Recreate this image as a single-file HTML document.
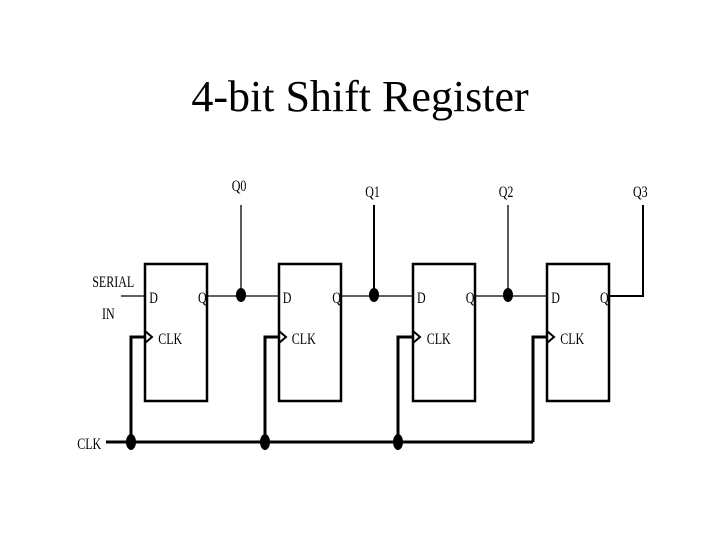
<!DOCTYPE html>
<html><head><style>
html,body{margin:0;padding:0;background:#fff;width:720px;height:540px;overflow:hidden}
</style></head><body>
<svg width="720" height="540" xmlns="http://www.w3.org/2000/svg" font-family="Liberation Serif, serif">
<text x="360" y="111" font-size="44" text-anchor="middle">4-bit Shift Register</text>
<g fill="none" stroke="#000">
<rect x="145" y="264" width="62" height="137" stroke-width="2.5"/>
<rect x="279" y="264" width="62" height="137" stroke-width="2.5"/>
<rect x="413" y="264" width="62" height="137" stroke-width="2.5"/>
<rect x="547" y="264" width="62" height="137" stroke-width="2.5"/>
<g stroke-width="1.3">
<line x1="121" y1="296" x2="145" y2="296"/>
<line x1="207" y1="296" x2="279" y2="296"/>
<line x1="341" y1="296" x2="413" y2="296"/>
<line x1="475" y1="296" x2="547" y2="296"/>
<line x1="241" y1="205" x2="241" y2="296"/>
<line x1="508" y1="205" x2="508" y2="296"/>
</g>
<line x1="374" y1="205" x2="374" y2="296" stroke-width="2"/>
<polyline points="610,296 643,296 643,205" stroke-width="2"/>
<g stroke-width="3">
<line x1="106" y1="442" x2="533" y2="442"/>
<polyline points="131,442 131,337 145,337"/>
<polyline points="265,442 265,337 279,337"/>
<polyline points="398,442 398,337 413,337"/>
<polyline points="533,442 533,337 547,337"/>
</g>
<g stroke-width="2">
<polyline points="145,331 152,337 145,343"/>
<polyline points="279,331 286,337 279,343"/>
<polyline points="413,331 420,337 413,343"/>
<polyline points="547,331 554,337 547,343"/>
</g>
</g>
<g fill="#000">
<ellipse cx="241" cy="295" rx="5" ry="7"/>
<ellipse cx="374" cy="295" rx="5" ry="7"/>
<ellipse cx="508" cy="295" rx="5" ry="7"/>
<ellipse cx="131" cy="442" rx="5" ry="8"/>
<ellipse cx="265" cy="442" rx="5" ry="8"/>
<ellipse cx="398" cy="442" rx="5" ry="8"/>
</g>
<g font-size="16" transform="scale(0.75,1)">
<text x="123" y="287">SERIAL</text>
<text x="136" y="319">IN</text>
<text x="103" y="449">CLK</text>
<text x="309" y="191">Q0</text>
<text x="487" y="197">Q1</text>
<text x="665" y="197">Q2</text>
<text x="844" y="197">Q3</text>
<text x="199" y="303">D</text><text x="264" y="303">Q</text><text x="211" y="344">CLK</text>
<text x="377" y="303">D</text><text x="443" y="303">Q</text><text x="389" y="344">CLK</text>
<text x="556" y="303">D</text><text x="621" y="303">Q</text><text x="569" y="344">CLK</text>
<text x="735" y="303">D</text><text x="800" y="303">Q</text><text x="747" y="344">CLK</text>
</g>
</svg>
</body></html>
